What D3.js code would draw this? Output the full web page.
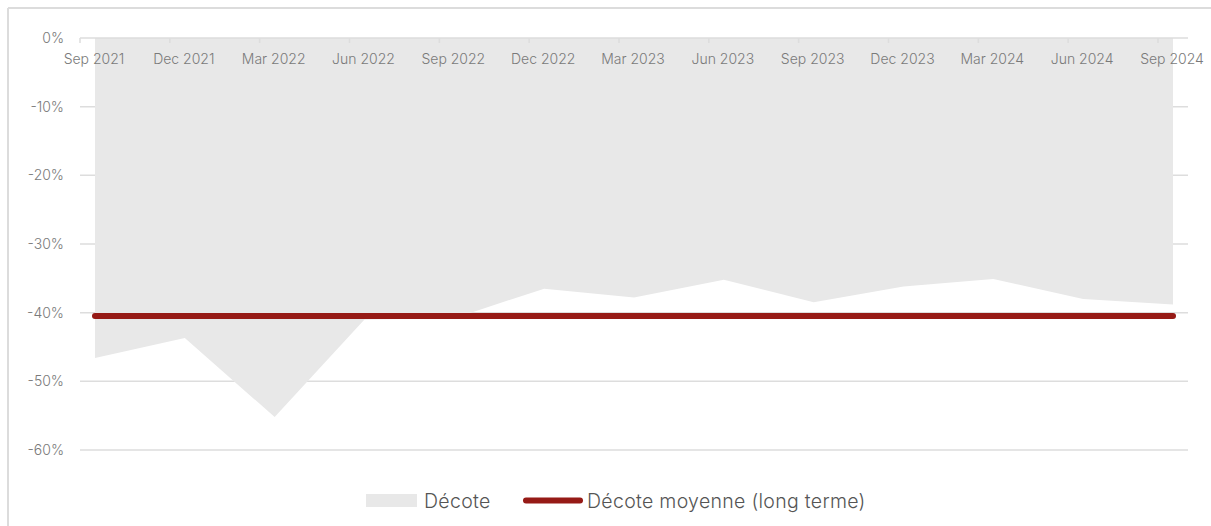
<!DOCTYPE html>
<html>
<head>
<meta charset="utf-8">
<script src="https://cdn.jsdelivr.net/npm/d3@7"></script>
<style>
  html, body { margin: 0; padding: 0; background: #fff; }
  svg { display: block; }
  text { font-family: Inter, "Noto Sans", sans-serif; font-weight: 300; }
</style>
</head>
<body>
<svg id="chart" width="1211" height="526"></svg>
<script>
// ---- data ----
const categories = ["Sep 2021","Dec 2021","Mar 2022","Jun 2022","Sep 2022","Dec 2022","Mar 2023","Jun 2023","Sep 2023","Dec 2023","Mar 2024","Jun 2024","Sep 2024"];
const decote = [-46.6, -43.7, -55.2, -41.0, -40.8, -36.5, -37.8, -35.2, -38.5, -36.2, -35.1, -38.0, -38.8];
const decoteMoyenne = -40.5;
const yTicks = [0, -10, -20, -30, -40, -50, -60];
const seriesNames = ["Décote", "Décote moyenne (long terme)"];

// ---- layout ----
const svg = d3.select("#chart");
const plotLeft = 80, plotRight = 1188;
const x = d3.scaleLinear().domain([0, categories.length - 1]).range([95, 1173]);
const y = d3.scaleLinear().domain([-60, 0]).range([450, 38]);
const tickOffset = 15;

// frame
svg.append("line").attr("x1", 8).attr("x2", 1211).attr("y1", 8).attr("y2", 8)
  .attr("stroke", "#dcdcdc").attr("stroke-width", 2);
svg.append("line").attr("x1", 8).attr("x2", 8).attr("y1", 8).attr("y2", 526)
  .attr("stroke", "#dcdcdc").attr("stroke-width", 2);

// gridlines
svg.append("g").selectAll("line").data(yTicks.filter(d => d !== 0)).join("line")
  .attr("x1", plotLeft).attr("x2", plotRight)
  .attr("y1", d => y(d)).attr("y2", d => y(d))
  .attr("stroke", "#dddddd").attr("stroke-width", 1.5);

// area
const area = d3.area()
  .x((d, i) => x(i))
  .y0(y(0))
  .y1(d => y(d));
svg.append("path").datum(decote)
  .attr("d", area)
  .attr("fill", "#e8e8e8");

// top axis line + ticks
svg.append("line").attr("x1", plotLeft).attr("x2", plotRight)
  .attr("y1", y(0)).attr("y2", y(0))
  .attr("stroke", "#dddddd").attr("stroke-width", 1.5);
svg.append("g").selectAll("line").data(categories).join("line")
  .attr("x1", (d, i) => x(i) - tickOffset).attr("x2", (d, i) => x(i) - tickOffset)
  .attr("y1", y(0)).attr("y2", y(0) + 5)
  .attr("stroke", "#dddddd").attr("stroke-width", 1.5);

// average line
svg.append("line")
  .attr("x1", x(0)).attr("x2", x(categories.length - 1))
  .attr("y1", y(decoteMoyenne)).attr("y2", y(decoteMoyenne))
  .attr("stroke", "#961a16").attr("stroke-width", 6).attr("stroke-linecap", "round");

// x labels
svg.append("g").selectAll("text").data(categories).join("text")
  .attr("x", (d, i) => x(i) - 1).attr("y", 64)
  .attr("text-anchor", "middle")
  .attr("font-size", 14).attr("fill", "#7a7a7a")
  .text(d => d);

// y labels
svg.append("g").selectAll("text").data(yTicks).join("text")
  .attr("x", 64).attr("y", d => y(d))
  .attr("dy", "0.35em")
  .attr("text-anchor", "end")
  .attr("font-size", 14).attr("fill", "#7a7a7a")
  .text(d => d + "%");

// legend
const lg = svg.append("g");
lg.append("rect").attr("x", 366).attr("y", 494).attr("width", 51).attr("height", 13).attr("fill", "#e8e8e8");
lg.append("text").attr("x", 424).attr("y", 508).attr("font-size", 19.5).attr("letter-spacing", 0.3).attr("fill", "#555").text(seriesNames[0]);
lg.append("line").attr("x1", 526).attr("x2", 580).attr("y1", 500.5).attr("y2", 500.5)
  .attr("stroke", "#961a16").attr("stroke-width", 6).attr("stroke-linecap", "round");
lg.append("text").attr("x", 587).attr("y", 508).attr("font-size", 19.5).attr("letter-spacing", 0.3).attr("fill", "#555").text(seriesNames[1]);
</script>
</body>
</html>
